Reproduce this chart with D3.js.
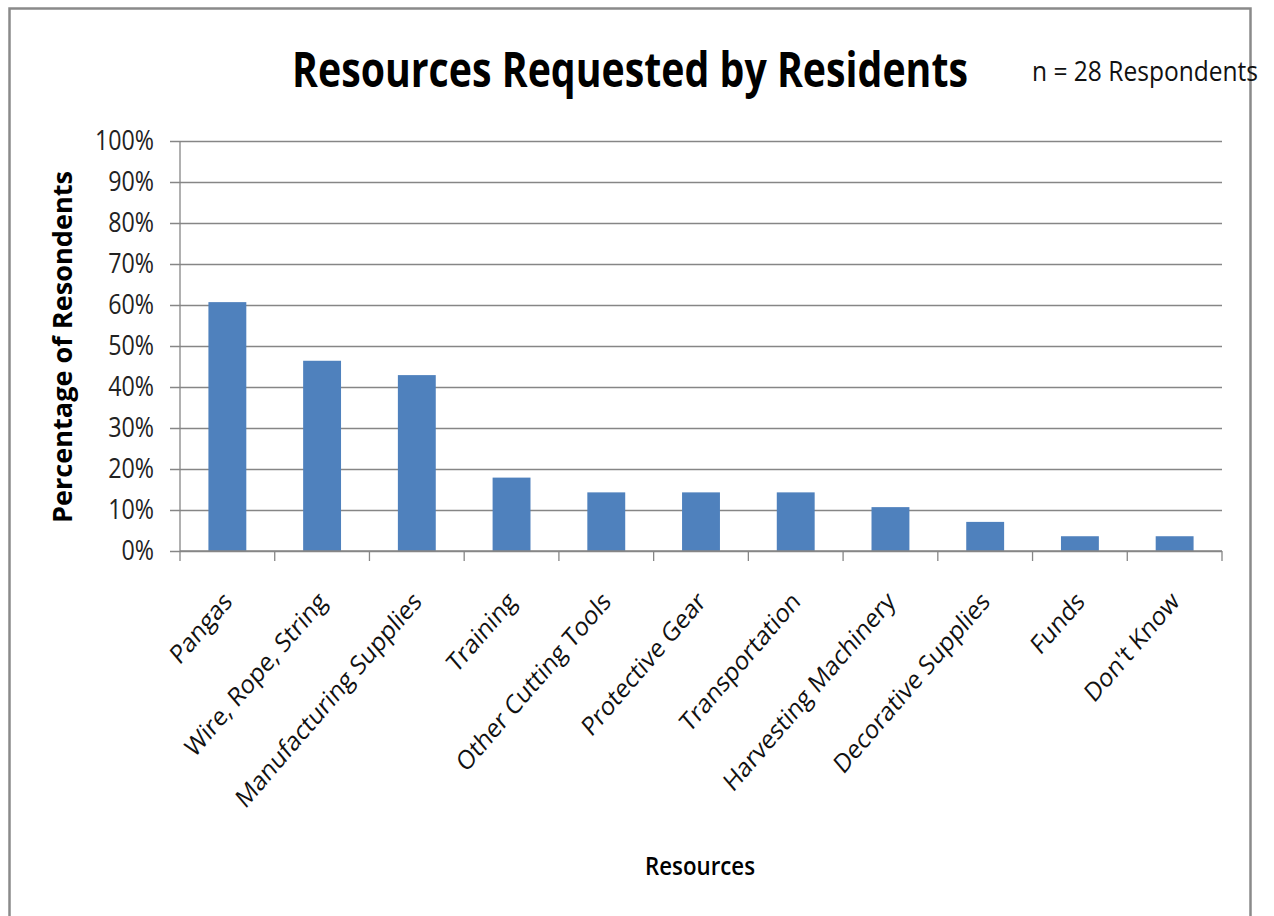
<!DOCTYPE html>
<html>
<head>
<meta charset="utf-8">
<script src="https://cdn.jsdelivr.net/npm/d3@7"></script>
<style>
  html, body { margin: 0; padding: 0; background: #fff; }
  svg { display: block; font-family: "Open Sans", "Noto Sans", sans-serif; }
</style>
</head>
<body>
<svg id="chart" width="1274" height="916"></svg>
<script>
// Share of the 28 respondents requesting each resource
const categories = [
  "Pangas", "Wire, Rope, String", "Manufacturing Supplies", "Training",
  "Other Cutting Tools", "Protective Gear", "Transportation",
  "Harvesting Machinery", "Decorative Supplies", "Funds", "Don't Know"
];
const percentRequested = [60.7, 46.4, 42.9, 17.9, 14.3, 14.3, 14.3, 10.7, 7.1, 3.6, 3.6];
const yTicks = [0, 10, 20, 30, 40, 50, 60, 70, 80, 90, 100];

const svg = d3.select("#chart");
const narrow = 0.86; // horizontal condensing applied to labels

// Outer chart frame
svg.append("rect")
  .attr("x", 9.5).attr("y", 8.5)
  .attr("width", 1241).attr("height", 930)
  .attr("fill", "none").attr("stroke", "#8a8a8a").attr("stroke-width", 2.5);

const plot = { left: 180, right: 1222, top: 141, bottom: 551 };

const x = d3.scaleBand()
  .domain(categories)
  .range([plot.left, plot.right])
  .paddingInner(0.6).paddingOuter(0.3);

const y = d3.scaleLinear().domain([0, 100]).range([plot.bottom, plot.top]);

// Horizontal gridlines with outward ticks, and y labels
const yAxis = d3.axisLeft(y)
  .tickValues(yTicks)
  .tickSize(-(plot.right - plot.left))
  .tickPadding(26)
  .tickFormat(d => d + "%");

const gy = svg.append("g")
  .attr("transform", `translate(${plot.left},0)`)
  .call(yAxis);
gy.select(".domain").remove();
gy.selectAll(".tick line")
  .attr("x1", -10)
  .attr("stroke", "#868686").attr("stroke-width", 1.3);
gy.selectAll(".tick text")
  .attr("font-size", 27).attr("fill", "#222")
  .attr("font-family", "'Open Sans', sans-serif")
  .each(function () {
    const w = this.getComputedTextLength();
    d3.select(this).attr("textLength", w * narrow).attr("lengthAdjust", "spacingAndGlyphs");
  });

// Vertical axis line
svg.append("line")
  .attr("x1", plot.left).attr("x2", plot.left)
  .attr("y1", plot.top).attr("y2", plot.bottom)
  .attr("stroke", "#868686").attr("stroke-width", 1.3);

// Bars
svg.append("g").selectAll("rect")
  .data(categories.map((c, i) => ({ c, v: percentRequested[i] })))
  .join("rect")
  .attr("x", d => x(d.c))
  .attr("y", d => y(d.v))
  .attr("width", x.bandwidth())
  .attr("height", d => y(0) - y(d.v))
  .attr("fill", "#4F81BD");

// Category axis: baseline, tick marks on band edges
const edges = d3.range(categories.length + 1).map(i => plot.left + i * (plot.right - plot.left) / categories.length);
const gx = svg.append("g");
gx.append("line")
  .attr("x1", plot.left).attr("x2", plot.right)
  .attr("y1", plot.bottom).attr("y2", plot.bottom)
  .attr("stroke", "#868686").attr("stroke-width", 1.3);
gx.selectAll("line.edge")
  .data(edges)
  .join("line")
  .attr("class", "edge")
  .attr("x1", d => d).attr("x2", d => d)
  .attr("y1", plot.bottom).attr("y2", plot.bottom + 10)
  .attr("stroke", "#868686").attr("stroke-width", 1.3);

// Rotated, condensed category labels
gx.selectAll("text")
  .data(categories)
  .join("text")
  .attr("transform", d => `translate(${x(d) + x.bandwidth() / 2 + 6},${plot.bottom + 52}) scale(${narrow},1) rotate(-45)`)
  .attr("text-anchor", "end")
  .attr("font-size", 26.5)
  .attr("fill", "#111")
  .text(d => d);

// Title
svg.append("text")
  .attr("transform", "translate(630,87) scale(1,1.2)")
  .attr("text-anchor", "middle")
  .attr("font-size", 40).attr("font-weight", "bold")
  .attr("textLength", 676).attr("lengthAdjust", "spacingAndGlyphs")
  .attr("fill", "#000")
  .text("Resources Requested by Residents");

// Sample size note
svg.append("text")
  .attr("transform", "translate(1032,81) scale(1,1.1)")
  .attr("font-size", 25)
  .attr("textLength", 226).attr("lengthAdjust", "spacingAndGlyphs")
  .attr("fill", "#111")
  .text("n = 28 Respondents");

// Axis titles
svg.append("text")
  .attr("transform", "translate(72,347) rotate(-90)")
  .attr("text-anchor", "middle")
  .attr("font-size", 27).attr("font-weight", "bold")
  .attr("textLength", 352).attr("lengthAdjust", "spacingAndGlyphs")
  .attr("fill", "#000")
  .text("Percentage of Resondents");

svg.append("text")
  .attr("x", 700).attr("y", 875)
  .attr("text-anchor", "middle")
  .attr("font-size", 25).attr("font-weight", 600)
  .attr("textLength", 110).attr("lengthAdjust", "spacingAndGlyphs")
  .attr("fill", "#000")
  .text("Resources");
</script>
</body>
</html>
